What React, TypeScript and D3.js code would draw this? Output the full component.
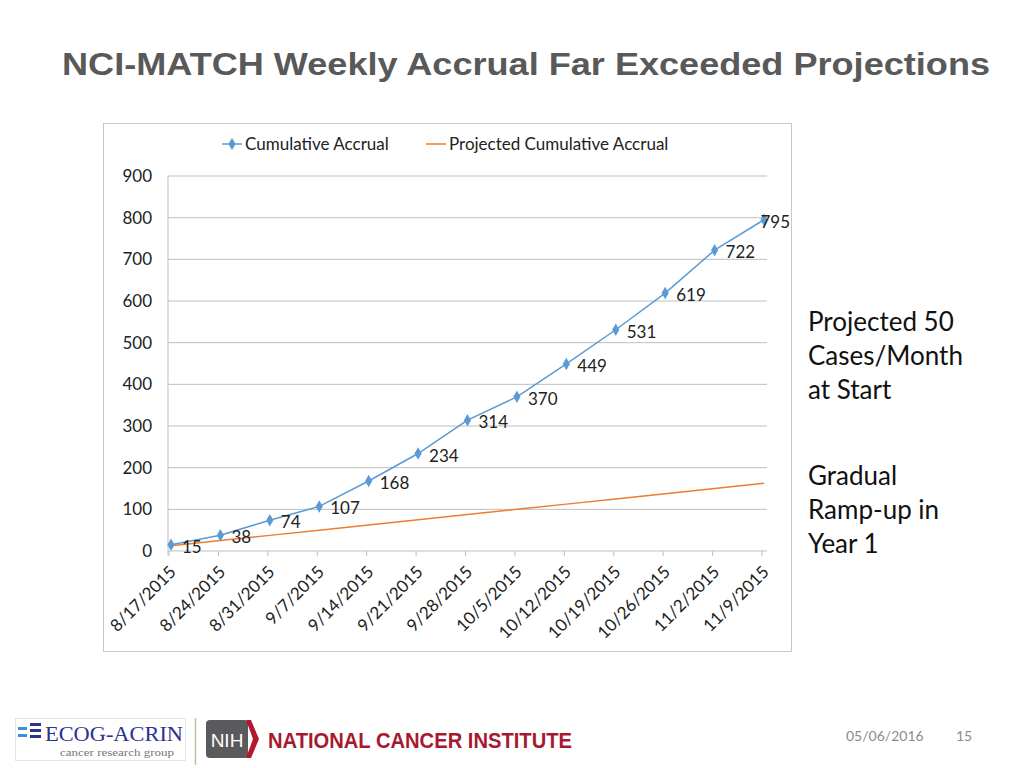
import React from "react";
import * as d3 from "d3";

const dates = ["8/17/2015","8/24/2015","8/31/2015","9/7/2015","9/14/2015","9/21/2015","9/28/2015","10/5/2015","10/12/2015","10/19/2015","10/26/2015","11/2/2015","11/9/2015"];
const cumulative = [15,38,74,107,168,234,314,370,449,531,619,722,795];
const projected = [12.5,25,37.5,50,62.5,75,87.5,100,112.5,125,137.5,150,162.5];
const yTicks = [0,100,200,300,400,500,600,700,800,900];
const seriesNames = ["Cumulative Accrual", "Projected Cumulative Accrual"];
const sideText1 = ["Projected 50", "Cases/Month", "at Start"];
const sideText2 = ["Gradual", "Ramp-up in", "Year 1"];

const BLUE = "#5B9BD5";
const ORANGE = "#ED7D31";
const GRID = "#BFBFBF";
const FONT = "Lato, 'Open Sans', sans-serif";
const FS = 17;

export default function App() {
  const x = d3.scalePoint<string>().domain(dates).range([171, 764]);
  const y = d3.scaleLinear().domain([0, 900]).range([551, 176]);
  const line = d3.line<number>().x((_, i) => x(dates[i])!).y((d) => y(d));
  const diamond = d3.symbol().type(d3.symbolDiamond).size(45)()!;
  const left = 168, right = 767;

  return (
    <svg width={1024} height={768} style={{ position: "absolute", left: 0, top: 0, background: "#fff" }}>
      <rect x={0} y={0} width={1024} height={768} fill="#fff" />
      <text x={62} y={75} fontFamily="'Liberation Sans', Arial, sans-serif" fontWeight="bold" fontSize={32} fill="#595959" textLength={928} lengthAdjust="spacingAndGlyphs">
        NCI-MATCH Weekly Accrual Far Exceeded Projections
      </text>

      {/* chart frame */}
      <rect x={103.5} y={123.5} width={688} height={528} fill="#fff" stroke="#C8C8C8" strokeWidth={1} />

      {/* legend */}
      <g fontFamily={FONT} fontSize={FS} fill="#222">
        <line x1={222} x2={242} y1={144} y2={144} stroke={BLUE} strokeWidth={1.5} />
        <path d={diamond} transform="translate(232,144)" fill={BLUE} />
        <text x={245} y={150}>{seriesNames[0]}</text>
        <line x1={426} x2={446} y1={144} y2={144} stroke={ORANGE} strokeWidth={1.5} />
        <text x={449} y={150}>{seriesNames[1]}</text>
      </g>

      {/* gridlines and y ticks */}
      {yTicks.map((t) => (
        <g key={t}>
          <line x1={left} x2={right} y1={y(t)} y2={y(t)} stroke={GRID} strokeWidth={1} />
          <text x={152} y={y(t) + 6} textAnchor="end" fontFamily={FONT} fontSize={FS} fill="#222">{t}</text>
        </g>
      ))}
      <line x1={left} x2={left} y1={y(900)} y2={y(0) + 5} stroke={GRID} />
      {dates.map((d) => (
        <g key={d}>
          <line x1={x(d)! - 2} x2={x(d)! - 2} y1={y(0)} y2={y(0) + 5} stroke={GRID} />
          <text transform={`translate(${x(d)! + 6},${y(0) + 22}) rotate(-45)`} textAnchor="end" fontFamily={FONT} fontSize={FS} fill="#222">{d}</text>
        </g>
      ))}

      {/* series */}
      <path d={line(projected)!} fill="none" stroke={ORANGE} strokeWidth={1.5} />
      <path d={line(cumulative)!} fill="none" stroke={BLUE} strokeWidth={1.5} />
      {cumulative.map((v, i) => (
        <path key={i} d={diamond} transform={`translate(${x(dates[i])},${y(v)})`} fill={BLUE} />
      ))}
      {cumulative.map((v, i) => {
        const px = x(dates[i])! + 11;
        const w = String(v).length * 9.5;
        const lx = Math.min(px, 789 - w);
        return (
          <text key={"l" + i} x={lx} y={y(v) + 8} fontFamily={FONT} fontSize={FS} fill="#222">{v}</text>
        );
      })}

      {/* side text */}
      <g fontFamily={FONT} fontSize={26} fill="#111">
        {sideText1.map((s, i) => (
          <text key={s} x={808} y={331 + i * 34}>{s}</text>
        ))}
        {sideText2.map((s, i) => (
          <text key={s} x={808} y={485 + i * 34}>{s}</text>
        ))}
      </g>

      {/* footer logos */}
      <g>
        <rect x={15.5} y={718.5} width={170} height={42} fill="#fff" stroke="#E4E4E4" />
        <rect x={18} y={727} width={9} height={3} fill="#3C8DDB" />
        <rect x={18} y={734} width={9} height={3} fill="#3C8DDB" />
        <rect x={30} y={723} width={11} height={3} fill="#2E3192" />
        <rect x={30} y={729} width={11} height={3} fill="#2E3192" />
        <rect x={30} y={735} width={11} height={3} fill="#2E3192" />
        <text x={45} y={741} fontFamily="'Liberation Serif', serif" fontSize={22} fill="#2E3192" textLength={138} lengthAdjust="spacingAndGlyphs">ECOG-ACRIN</text>
        <text x={60} y={756} fontFamily="'Liberation Serif', serif" fontSize={11} fill="#777" textLength={114} lengthAdjust="spacingAndGlyphs">cancer research group</text>
        <line x1={195.5} x2={195.5} y1={718} y2={765} stroke="#C9B8A6" strokeWidth={1.5} />
        <rect x={206} y={720} width={42} height={38} rx={4} fill="#5A5A5C" />
        <text x={227} y={747} textAnchor="middle" fontFamily="'Liberation Sans', Arial, sans-serif" fontSize={19} fill="#fff">NIH</text>
        <path d="M246,720 L251,720 L259,739 L251,758 L246,758 L253,739 Z" fill="#B5172F" />
        <text x={268} y={748} fontFamily="'Liberation Sans', Arial, sans-serif" fontWeight="bold" fontSize={22} fill="#A71930" textLength={304} lengthAdjust="spacingAndGlyphs">NATIONAL CANCER INSTITUTE</text>
      </g>
      <text x={846} y={741} fontFamily={FONT} fontSize={14} fill="#8C8C8C">05/06/2016</text>
      <text x={956} y={741} fontFamily={FONT} fontSize={14} fill="#8C8C8C">15</text>
    </svg>
  );
}
